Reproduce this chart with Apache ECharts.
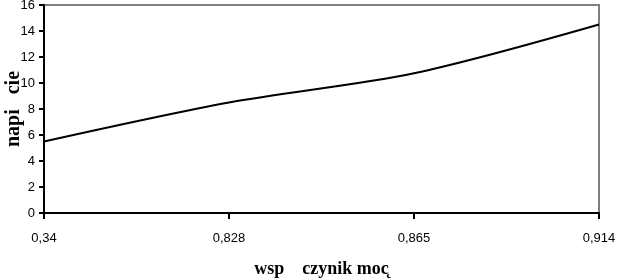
<!DOCTYPE html>
<html><head><meta charset="utf-8">
<script src="https://cdn.jsdelivr.net/npm/echarts@6/dist/echarts.min.js"></script>
<style>html,body{margin:0;padding:0;background:#fff}#c{width:617px;height:280px}</style>
</head><body><div id="c"></div>
<script>
var categories = ['0,34', '0,828', '0,865', '0,914'];
var values = [5.5, 8.5, 10.75, 14.5];
var yTicks = [0, 2, 4, 6, 8, 10, 12, 14, 16];

var chart = echarts.init(document.getElementById('c'), null, {renderer: 'canvas'});
chart.setOption({
  animation: false,
  backgroundColor: '#fff',
  grid: {left: 44, right: 18, top: 5, bottom: 67, containLabel: false, outerBoundsMode: 'none',
    show: true, borderColor: '#808080', borderWidth: 2, backgroundColor: 'transparent'},
  xAxis: {
    type: 'category', data: categories, boundaryGap: false,
    axisLine: {lineStyle: {color: '#000', width: 2}},
    axisTick: {show: true, length: 6, lineStyle: {color: '#000', width: 2}},
    axisLabel: {color: '#000', fontFamily: 'Liberation Sans Narrow, Liberation Sans, Arial', fontSize: 13, margin: 19},
    name: 'wsp    czynik moc\u0328', nameLocation: 'middle', nameGap: 47, nameMoveOverlap: false,
    nameTextStyle: {color: '#000', fontFamily: 'Liberation Serif, Times New Roman', fontWeight: 'bold', fontSize: 18},
    splitLine: {show: false}
  },
  yAxis: {
    type: 'value', min: 0, max: 16, interval: 2,
    axisLine: {show: true, lineStyle: {color: '#000', width: 2}},
    axisTick: {show: true, length: 5, lineStyle: {color: '#000', width: 2}},
    axisLabel: {color: '#000', fontFamily: 'Liberation Sans Narrow, Liberation Sans, Arial', fontSize: 13, margin: 9},
    splitLine: {show: false},
    name: 'napi   cie', nameLocation: 'middle', nameGap: 20, nameRotate: 90, nameMoveOverlap: false,
    nameTextStyle: {color: '#000', fontFamily: 'Liberation Serif, Times New Roman', fontWeight: 'bold', fontSize: 20}
  },
  series: [{
    type: 'line', data: values, smooth: 0.3, showSymbol: false,
    lineStyle: {color: '#000', width: 2}
  }]
});
</script></body></html>
